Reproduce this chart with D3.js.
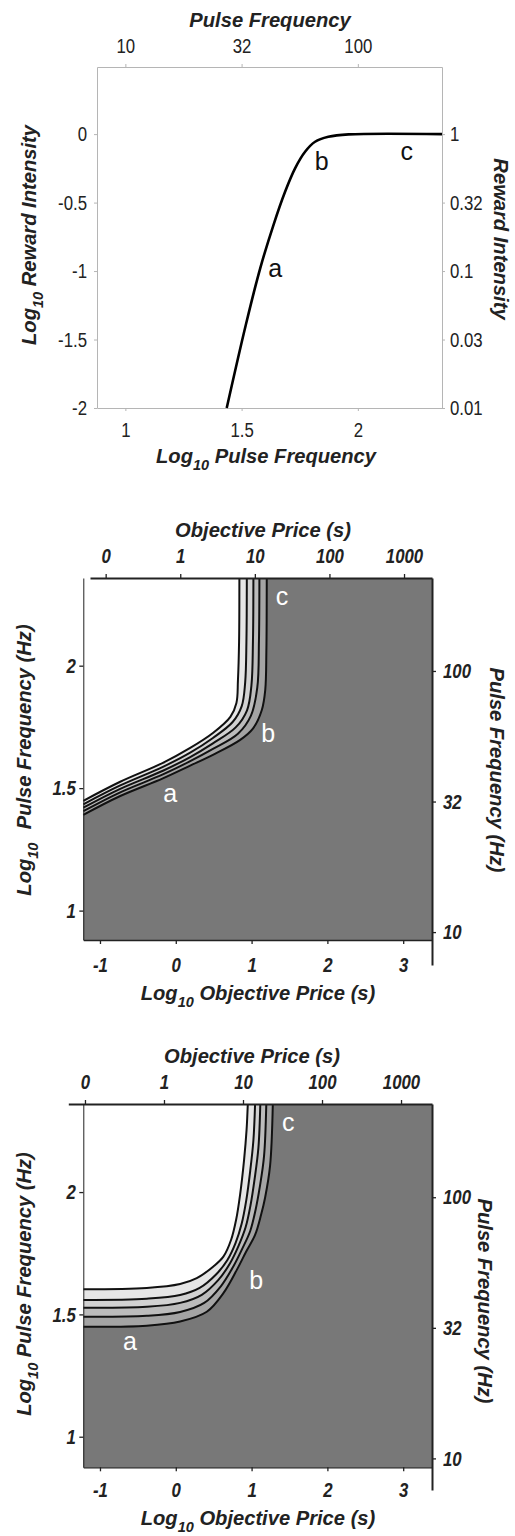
<!DOCTYPE html>
<meta charset="utf-8">
<style>
body { margin: 0; background: #fff; }
svg { display: block; font-family: "Liberation Sans", Arial, sans-serif; }
.bi { font-weight: bold; font-style: italic; }
</style>
<svg width="515" height="1536"></svg>
<script src="https://d3js.org/d3.v7.min.js"></script>
<script>

// ---- panel 1 : reward growth curve (log10 pulse freq, log10 intensity)
var p1Curve = [[1.436,-2.0],[1.518,-1.394],[1.580,-0.980],[1.637,-0.664],[1.687,-0.421],
               [1.730,-0.250],[1.773,-0.129],[1.816,-0.056],[1.873,-0.020],[1.960,-0.002],[2.362,0]];
var p1BottomTicks = [1, 1.5, 2],            p1BottomLabels = ["1","1.5","2"];
var p1LeftTicks = [0, -0.5, -1, -1.5, -2],  p1LeftLabels = ["0","-0.5","-1","-1.5","-2"];
var p1TopTicks = [10, 31.62, 100],          p1TopLabels = ["10","32","100"];
var p1RightTicks = [1, 0.3162, 0.1, 0.03162, 0.01], p1RightLabels = ["1","0.32","0.1","0.03","0.01"];
var p1Letters = [["a",1.645,-1.04],["b",1.845,-0.263],["c",2.21,-0.19]];

// ---- panel 2 : contours (log10 price, log10 pulse freq)
var p2Line1 = [[-1.22,1.448],[-0.74,1.525],[-0.17,1.603],[0.19,1.664],[0.49,1.725],[0.72,1.791],[0.80,1.848],[0.82,1.94],[0.835,2.1],[0.839,2.358]];
var p2Line2 = [[-1.22,1.434],[-0.74,1.510],[-0.17,1.587],[0.19,1.645],[0.49,1.705],[0.75,1.770],[0.87,1.835],[0.915,1.93],[0.932,2.1],[0.937,2.358]];
var p2Line3 = [[-1.22,1.420],[-0.74,1.496],[-0.17,1.571],[0.19,1.627],[0.49,1.683],[0.79,1.748],[0.94,1.818],[0.998,1.92],[1.018,2.1],[1.024,2.358]];
var p2Line4 = [[-1.22,1.406],[-0.74,1.482],[-0.17,1.556],[0.19,1.610],[0.49,1.660],[0.82,1.722],[0.99,1.795],[1.075,1.91],[1.097,2.1],[1.103,2.358]];
var p2Line5 = [[-1.22,1.391],[-0.74,1.467],[-0.17,1.540],[0.19,1.592],[0.49,1.636],[0.85,1.697],[1.02,1.744],[1.135,1.819],[1.18,1.90],[1.195,2.06],[1.2,2.358]];
var p2Letters = [["a",-0.075,1.444],["b",1.22,1.689],["c",1.40,2.248]];

// ---- panel 3 : contours
var p3Line1 = [[-1.219,1.603],[-0.383,1.608],[0.057,1.624],[0.277,1.648],[0.496,1.696],[0.628,1.736],[0.730,1.805],[0.796,1.887],[0.848,1.989],[0.901,2.132],[0.934,2.255],[0.950,2.36]];
var p3Line2 = [[-1.219,1.559],[-0.383,1.564],[0.057,1.579],[0.315,1.608],[0.534,1.664],[0.679,1.721],[0.788,1.791],[0.868,1.869],[0.929,1.965],[0.982,2.087],[1.024,2.212],[1.046,2.36]];
var p3Line3 = [[-1.219,1.527],[-0.383,1.531],[0.057,1.547],[0.343,1.580],[0.562,1.641],[0.716,1.709],[0.828,1.780],[0.921,1.856],[0.987,1.948],[1.040,2.054],[1.090,2.181],[1.115,2.36]];
var p3Line4 = [[-1.219,1.490],[-0.383,1.494],[0.057,1.510],[0.375,1.547],[0.594,1.615],[0.759,1.696],[0.876,1.768],[0.982,1.841],[1.053,1.928],[1.106,2.017],[1.164,2.146],[1.194,2.36]];
var p3Line5 = [[-1.219,1.450],[-0.383,1.454],[0.057,1.471],[0.409,1.511],[0.628,1.587],[0.805,1.682],[0.927,1.756],[1.046,1.825],[1.125,1.907],[1.178,1.977],[1.244,2.108],[1.280,2.36]];
var p3Letters = [["a",-0.603,1.355],["b",1.06,1.604],["c",1.485,2.251]];

var bandColors = ["#e6e6e6","#d2d2d2","#bcbcbc","#a4a4a4","#787878"];

var priceBottomTicks = [-1, 0, 1, 2, 3];
var priceTopTicks = [0.1, 1, 10, 100, 1000], priceTopLabels = ["0","1","10","100","1000"];
var freqLeftTicks = [1, 1.5, 2], freqLeftLabels = ["1","1.5","2"];
var freqRightTicks = [10, 31.62, 100], freqRightLabels = ["10","32","100"];

var svg = d3.select("svg");

// text helper: stretched text (sx < 1 narrows glyphs)
function txt(g, x, y, rot, sx, cls, size, parts) {
  var t = g.append("text")
      .attr("transform", "translate(" + x + "," + y + ") rotate(" + rot + ") scale(" + sx + ",1)")
      .attr("text-anchor", "middle")
      .attr("font-size", size)
      .attr("fill", "#222");
  if (cls) t.attr("class", cls);
  if (typeof parts === "string") { t.text(parts); return t; }
  // parts: [pre, sub, post]
  t.append("tspan").text(parts[0]);
  t.append("tspan").attr("dy", 7).attr("font-size", size * 0.72).text(parts[1]);
  t.append("tspan").attr("dy", -7).attr("dx", parts[3] || 0).text(parts[2]);
  return t;
}

function tickText(sel, sx, side, off) {
  sel.selectAll(".tick text").attr("transform", "scale(" + sx + ",1)");
  if (side === "left") sel.selectAll(".tick text").attr("x", -off / sx);
  if (side === "right") sel.selectAll(".tick text").attr("x", off / sx);
}

// ================= PANEL 1 =================
var x1 = d3.scaleLinear().domain([0.878, 2.362]).range([97, 442]);
var y1 = d3.scaleLinear().domain([-2, 0.49]).range([408, 67]);
var x1top = d3.scaleLog().domain([Math.pow(10, 0.878), Math.pow(10, 2.362)]).range([97, 442]);
var y1right = d3.scaleLog().domain([0.01, Math.pow(10, 0.49)]).range([408, 67]);

var g1 = svg.append("g");
var gray = "#b5b5b5";

var a1 = g1.append("g").attr("transform", "translate(0,408)")
    .call(d3.axisBottom(x1).tickValues(p1BottomTicks).tickSize(3).tickPadding(11).tickSizeOuter(0)
      .tickFormat(function(d, i) { return p1BottomLabels[i]; }));
var a2 = g1.append("g").attr("transform", "translate(97,0)")
    .call(d3.axisLeft(y1).tickValues(p1LeftTicks).tickSize(3).tickSizeOuter(0)
      .tickFormat(function(d, i) { return p1LeftLabels[i]; }));
var a3 = g1.append("g").attr("transform", "translate(0,67)")
    .call(d3.axisTop(x1top).tickValues(p1TopTicks).tickSize(3).tickPadding(11).tickSizeOuter(0)
      .tickFormat(function(d, i) { return p1TopLabels[i]; }));
var a4 = g1.append("g").attr("transform", "translate(442,0)")
    .call(d3.axisRight(y1right).tickValues(p1RightTicks).tickSize(3).tickSizeOuter(0)
      .tickFormat(function(d, i) { return p1RightLabels[i]; }));
[a1, a2, a3, a4].forEach(function(a) {
  a.selectAll(".domain, .tick line").attr("stroke", gray);
  a.selectAll(".tick text").attr("font-size", 21).attr("font-family", "Liberation Sans, Arial, sans-serif").attr("fill", "#222");
});
tickText(a1, 0.8); tickText(a3, 0.8);
tickText(a2, 0.8, "left", 10); tickText(a4, 0.8, "right", 8);

g1.append("path")
    .datum(p1Curve)
    .attr("fill", "none")
    .attr("stroke", "#000")
    .attr("stroke-width", 2.6)
    .attr("d", d3.line().x(function(d) { return x1(d[0]); }).y(function(d) { return y1(d[1]); })
      .curve(d3.curveCatmullRom));

p1Letters.forEach(function(l) {
  g1.append("text").attr("x", x1(l[1])).attr("y", y1(l[2]))
    .attr("text-anchor", "middle").attr("font-size", 25).attr("fill", "#111").text(l[0]);
});

txt(g1, 270, 27, 0, 0.96, "bi", 21, "Pulse Frequency");
txt(g1, 266, 463, 0, 0.96, "bi", 21, ["Log", "10", " Pulse Frequency"]);
txt(g1, 36, 235, -90, 0.96, "bi", 21, ["Log", "10", " Reward Intensity"]);
txt(g1, 494, 239, 90, 0.96, "bi", 21, "Reward Intensity");

// ================= PANELS 2 & 3 =================
function contourPanel(cfg) {
  var g = svg.append("g");
  var xs = d3.scaleLinear().domain([-1.22, 3.38]).range([83.3, 432]);
  var ys = d3.scaleLinear().domain(cfg.yDomain).range([cfg.bottom, cfg.top]);
  var xTop = d3.scaleLog().domain(cfg.topDomain).range([cfg.topLeft, 432]);
  var yRight = d3.scaleLog().domain(cfg.rightDomain).range([cfg.rightBottom, cfg.top]);
  var xd = xs.domain(), yd = ys.domain();

  var line = d3.line().x(function(d) { return xs(d[0]); }).y(function(d) { return ys(d[1]); })
      .curve(d3.curveCatmullRom);

  // filled bands (each contour closed toward the lower-right corner)
  cfg.lines.forEach(function(pts, i) {
    var p = line(pts) + "L" + xs(xd[1]) + "," + ys(yd[1]) + "L" + xs(xd[1]) + "," + ys(yd[0]) +
            "L" + xs(xd[0]) + "," + ys(yd[0]) + "Z";
    g.append("path").attr("d", p).attr("fill", bandColors[i]);
  });
  cfg.lines.forEach(function(pts) {
    g.append("path").datum(pts).attr("d", line).attr("fill", "none")
      .attr("stroke", "#111").attr("stroke-width", 2);
  });

  cfg.letters.forEach(function(l) {
    g.append("text").attr("x", xs(l[1])).attr("y", ys(l[2]))
      .attr("text-anchor", "middle").attr("font-size", 25).attr("fill", "#fff").text(l[0]);
  });

  var ab = g.append("g").attr("transform", "translate(0," + cfg.bottom + ")")
      .call(d3.axisBottom(xs).tickValues(priceBottomTicks).tickSize(4).tickPadding(cfg.bottomPad).tickSizeOuter(0)
        .tickFormat(function(d) { return String(d); }));
  var al = g.append("g").attr("transform", "translate(83.3,0)")
      .call(d3.axisLeft(ys).tickValues(freqLeftTicks).tickSize(4).tickSizeOuter(0)
        .tickFormat(function(d, i) { return freqLeftLabels[i]; }));
  var at = g.append("g").attr("transform", "translate(0," + cfg.top + ")")
      .call(d3.axisTop(xTop).tickValues(priceTopTicks).tickSize(4).tickPadding(11).tickSizeOuter(0)
        .tickFormat(function(d, i) { return priceTopLabels[i]; }));
  var ar = g.append("g").attr("transform", "translate(432,0)")
      .call(d3.axisRight(yRight).tickValues(freqRightTicks).tickSize(4).tickSizeOuter(0)
        .tickFormat(function(d, i) { return freqRightLabels[i]; }));
  [ab, al, at, ar].forEach(function(a) {
    a.selectAll(".domain, .tick line").attr("stroke", "#222").attr("stroke-width", 1.3);
    a.selectAll(".tick text").attr("font-size", 21).attr("font-weight", "bold").attr("font-style", "italic")
      .attr("font-family", "Liberation Sans, Arial, sans-serif").attr("fill", "#222");
  });
  al.select(".domain").attr("stroke-width", 1);
  at.select(".domain").attr("stroke-width", 2.2);
  ar.select(".domain").attr("stroke-width", 2);
  tickText(ab, 0.8); tickText(at, 0.8);
  tickText(al, 0.8, "left", 7.5); tickText(ar, 0.8, "right", 11);

  txt(g, cfg.topTitleX, cfg.top - 41, 0, 0.96, "bi", 21, "Objective Price (s)");
  txt(g, 258, cfg.bottom + cfg.bottomTitleOff, 0, 0.96, "bi", 21, ["Log", "10", " Objective Price (s)"]);
  txt(g, 31, cfg.leftTitleY, -90, 0.96, "bi", 21, ["Log", "10", " Pulse Frequency (Hz)", cfg.leftGap]);
  txt(g, cfg.rightTitleX, cfg.rightTitleY, 90, 0.96, "bi", 21, "Pulse Frequency (Hz)");
}

contourPanel({
  top: 578, bottom: 940, yDomain: [0.88, 2.358],
  topDomain: [0.1 * Math.pow(10, -0.21), Math.pow(10, 3.375)], topLeft: 90,
  rightDomain: [Math.pow(10, 0.874), Math.pow(10, 2.356)], rightBottom: 965,
  lines: [p2Line1, p2Line2, p2Line3, p2Line4, p2Line5], letters: p2Letters,
  bottomPad: 13, bottomTitleOff: 60, topTitleX: 263,
  leftTitleY: 760, leftGap: 8, rightTitleX: 490, rightTitleY: 770
});

contourPanel({
  top: 1104, bottom: 1467.3, yDomain: [0.875, 2.36],
  topDomain: [0.1 * Math.pow(10, -0.211), Math.pow(10, 3.392)], topLeft: 68.3,
  rightDomain: [Math.pow(10, 0.879), Math.pow(10, 2.357)], rightBottom: 1490,
  lines: [p3Line1, p3Line2, p3Line3, p3Line4, p3Line5], letters: p3Letters,
  bottomPad: 11, bottomTitleOff: 58, topTitleX: 252,
  leftTitleY: 1284, leftGap: 0, rightTitleX: 478, rightTitleY: 1301
});

</script>
